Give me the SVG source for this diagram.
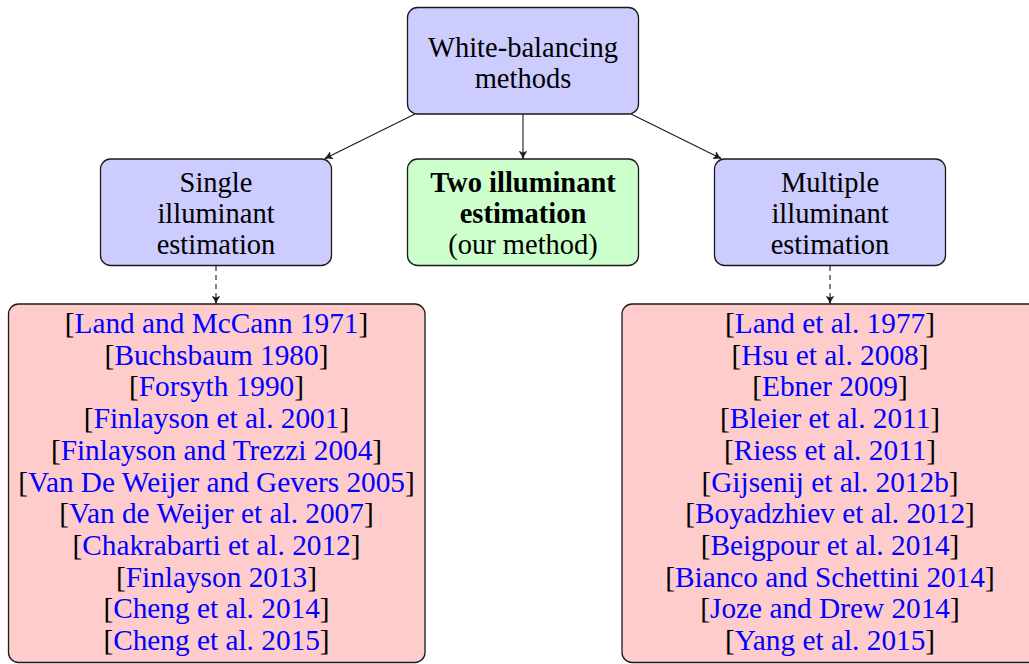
<svg xmlns="http://www.w3.org/2000/svg" width="1029" height="664" viewBox="0 0 1029 664">
<style>
text{font-family:"Liberation Serif","Times New Roman",serif;font-size:28.5px;fill:#000;text-anchor:middle}
.l text{font-size:29.3px}
.b{font-weight:bold}
.ref{fill:#0000ff}
.box{stroke:#1a1a1a;stroke-width:1.3}
.blue{fill:#ccccff}
.green{fill:#ccffcc}
.red{fill:#ffcccc}
.edge{stroke:#1a1a1a;stroke-width:1.1;fill:none}
.dash{stroke-dasharray:5 4}
</style>
<defs>
<marker id="ah" markerUnits="userSpaceOnUse" markerWidth="12" markerHeight="12" viewBox="-10 -6 12 12" refX="0" refY="0" orient="auto">
<path d="M-7,-3.5 Q-3,-0.6 0,0 Q-3,0.6 -7,3.5 L-5.5,0 Z" fill="#1a1a1a" stroke="#1a1a1a" stroke-width="0.8" stroke-linejoin="round"/>
</marker>
</defs>
<g id="connectors">
<line class="edge" x1="415" y1="114" x2="325" y2="158.5" marker-end="url(#ah)"/>
<line class="edge" x1="523" y1="114" x2="523" y2="158.5" marker-end="url(#ah)"/>
<line class="edge" x1="631" y1="114" x2="721" y2="158.5" marker-end="url(#ah)"/>
<line class="edge dash" x1="216" y1="266" x2="216" y2="303.5" marker-end="url(#ah)"/>
<line class="edge dash" x1="830" y1="266" x2="830" y2="303.5" marker-end="url(#ah)"/>
</g>
<g id="root">
<rect class="box blue" x="407.5" y="7.5" width="231" height="106.5" rx="10"/>
<text x="523" y="57">White-balancing</text>
<text x="523" y="88">methods</text>
</g>
<g id="single">
<rect class="box blue" x="100.5" y="159" width="231" height="106.5" rx="10"/>
<text x="216" y="192">Single</text>
<text x="216" y="223">illuminant</text>
<text x="216" y="254">estimation</text>
</g>
<g id="two">
<rect class="box green" x="407.5" y="159" width="231" height="106.5" rx="10"/>
<text class="b" x="523" y="192">Two illuminant</text>
<text class="b" x="523" y="223">estimation</text>
<text x="523" y="254">(our method)</text>
</g>
<g id="multiple">
<rect class="box blue" x="714.5" y="159" width="231" height="106.5" rx="10"/>
<text x="830" y="192">Multiple</text>
<text x="830" y="223">illuminant</text>
<text x="830" y="254">estimation</text>
</g>
<g id="single-refs" class="l">
<rect class="box red" x="8.5" y="304" width="416.5" height="358.5" rx="10"/>
<text x="216.5" y="333">[<tspan class="ref">Land and McCann 1971</tspan>]</text>
<text x="216.5" y="364.7">[<tspan class="ref">Buchsbaum 1980</tspan>]</text>
<text x="216.5" y="396.4">[<tspan class="ref">Forsyth 1990</tspan>]</text>
<text x="216.5" y="428.1">[<tspan class="ref">Finlayson et al. 2001</tspan>]</text>
<text x="216.5" y="459.8">[<tspan class="ref">Finlayson and Trezzi 2004</tspan>]</text>
<text x="216.5" y="491.5">[<tspan class="ref">Van De Weijer and Gevers 2005</tspan>]</text>
<text x="216.5" y="523.2">[<tspan class="ref">Van de Weijer et al. 2007</tspan>]</text>
<text x="216.5" y="554.9">[<tspan class="ref">Chakrabarti et al. 2012</tspan>]</text>
<text x="216.5" y="586.6">[<tspan class="ref">Finlayson 2013</tspan>]</text>
<text x="216.5" y="618.3">[<tspan class="ref">Cheng et al. 2014</tspan>]</text>
<text x="216.5" y="650">[<tspan class="ref">Cheng et al. 2015</tspan>]</text>
</g>
<g id="multiple-refs" class="l">
<rect class="box red" x="622" y="304" width="416.5" height="358.5" rx="10"/>
<text x="830" y="333">[<tspan class="ref">Land et al. 1977</tspan>]</text>
<text x="830" y="364.7">[<tspan class="ref">Hsu et al. 2008</tspan>]</text>
<text x="830" y="396.4">[<tspan class="ref">Ebner 2009</tspan>]</text>
<text x="830" y="428.1">[<tspan class="ref">Bleier et al. 2011</tspan>]</text>
<text x="830" y="459.8">[<tspan class="ref">Riess et al. 2011</tspan>]</text>
<text x="830" y="491.5">[<tspan class="ref">Gijsenij et al. 2012b</tspan>]</text>
<text x="830" y="523.2">[<tspan class="ref">Boyadzhiev et al. 2012</tspan>]</text>
<text x="830" y="554.9">[<tspan class="ref">Beigpour et al. 2014</tspan>]</text>
<text x="830" y="586.6">[<tspan class="ref">Bianco and Schettini 2014</tspan>]</text>
<text x="830" y="618.3">[<tspan class="ref">Joze and Drew 2014</tspan>]</text>
<text x="830" y="650">[<tspan class="ref">Yang et al. 2015</tspan>]</text>
</g>
</svg>
